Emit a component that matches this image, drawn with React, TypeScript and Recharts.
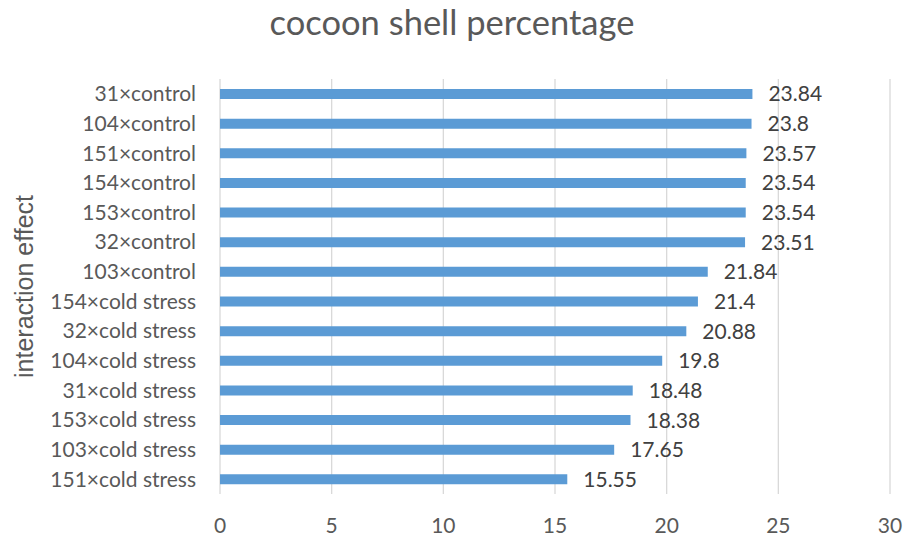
import React from 'react';
import { BarChart, Bar, XAxis, YAxis, CartesianGrid, LabelList } from 'recharts';

const categories = [
  '31×control', '104×control', '151×control', '154×control', '153×control', '32×control', '103×control',
  '154×cold stress', '32×cold stress', '104×cold stress', '31×cold stress', '153×cold stress', '103×cold stress', '151×cold stress',
];
const values = [23.84, 23.8, 23.57, 23.54, 23.54, 23.51, 21.84, 21.4, 20.88, 19.8, 18.48, 18.38, 17.65, 15.55];
const xTicks = [0, 5, 10, 15, 20, 25, 30];
const title = 'cocoon shell percentage';
const yTitle = 'interaction effect';

const data = categories.map((c, i) => ({ name: c, value: values[i] }));
const FONT = 'Lato, "Open Sans", sans-serif';

const YLabel = (props: any) => {
  const vb = props.viewBox || {};
  const cx = 24;
  const cy = (vb.y ?? 0) + (vb.height ?? 0) / 2;
  return (
    <text x={cx} y={cy} transform={`rotate(-90, ${cx}, ${cy})`} textAnchor="middle" dominantBaseline="central"
      fill="#595959" fontSize={25} fontFamily='"Liberation Sans", Arial, sans-serif'>{yTitle}</text>
  );
};

export default function App() {
  return (
    <div style={{ position: 'absolute', left: 0, top: 0, width: 903, height: 538, background: '#fff' }}>
      <svg width={903} height={50} style={{ position: 'absolute', left: 0, top: 0 }}>
        <text x={452} y={35} textAnchor="middle" fill="#595959" fontSize={34.5} fontFamily={FONT}>{title}</text>
      </svg>
      <BarChart width={903} height={538} data={data} layout="vertical"
        margin={{ top: 79, right: 13, bottom: 14, left: 0 }} barSize={10}>
        <CartesianGrid horizontal={false} vertical stroke="#d9d9d9" strokeWidth={1.3} />
        <XAxis type="number" domain={[0, 30]} ticks={xTicks} axisLine={false} tickLine={false} tickSize={0} tickMargin={24}
          height={30} tick={{ fill: '#595959', fontSize: 21, fontFamily: FONT }} interval={0} />
        <YAxis type="category" dataKey="name" width={220} axisLine={false} tickLine={false} tickSize={0} tickMargin={24}
          tick={{ fill: '#595959', fontSize: 21, fontFamily: FONT }} interval={0} label={<YLabel />} />
        <Bar dataKey="value" fill="#5B9BD5" isAnimationActive={false}>
          <LabelList dataKey="value" position="right" offset={16} fill="#404040" fontSize={21} fontFamily={FONT} dy={0} />
        </Bar>
      </BarChart>
    </div>
  );
}
